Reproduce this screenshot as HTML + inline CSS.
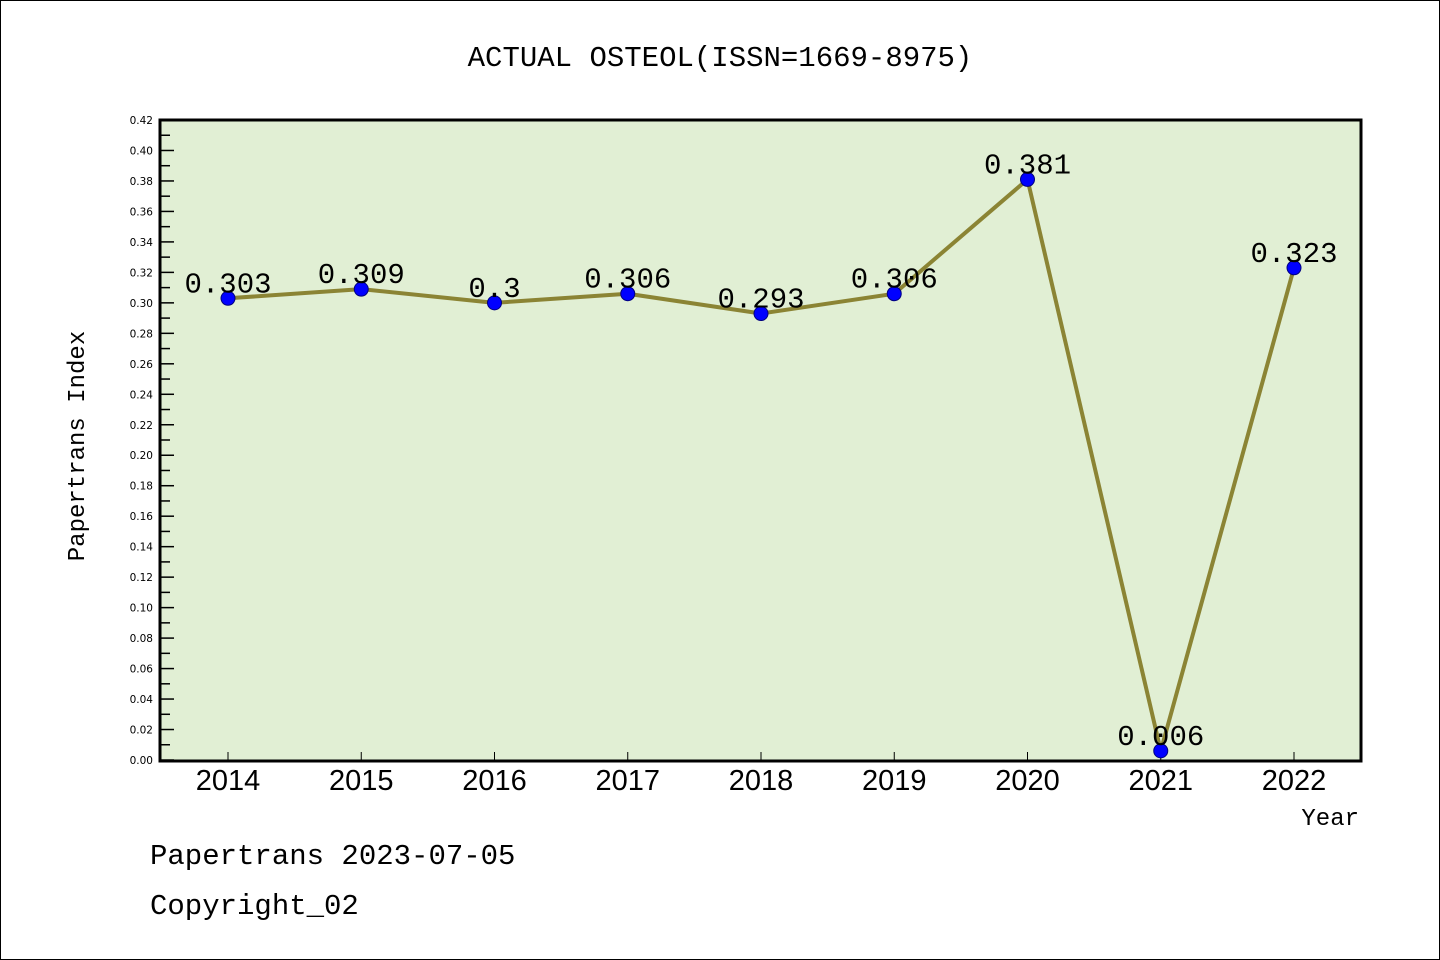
<!DOCTYPE html>
<html><head><meta charset="utf-8"><style>
html,body{margin:0;padding:0;background:#fff}
svg{display:block}
</style></head><body>
<svg id="chart" width="1440" height="960" xmlns="http://www.w3.org/2000/svg">
<rect x="0.5" y="0.5" width="1439" height="959" fill="#fff" stroke="#000"/>
<text x="720" y="66" text-anchor="middle" font-family="'WenQuanYi Zen Hei','Liberation Mono',monospace" font-size="29">ACTUAL OSTEOL(ISSN=1669-8975)</text>
<rect x="160" y="120" width="1201" height="641" fill="#e1efd4"/>
<g id="axes"></g>
<g id="series"></g>
<rect x="160" y="120" width="1201" height="641" fill="none" stroke="#000" stroke-width="3"/>
<text transform="translate(84,446) rotate(-90)" text-anchor="middle" font-family="'WenQuanYi Zen Hei','Liberation Mono',monospace" font-size="24">Papertrans Index</text>
<text x="1359" y="825" text-anchor="end" font-family="'WenQuanYi Zen Hei','Liberation Mono',monospace" font-size="24">Year</text>
<text x="150" y="864" font-family="'WenQuanYi Zen Hei','Liberation Mono',monospace" font-size="29">Papertrans 2023-07-05</text>
<text x="150" y="914" font-family="'WenQuanYi Zen Hei','Liberation Mono',monospace" font-size="29">Copyright_02</text>
</svg>
<script>
const categories = ["2014","2015","2016","2017","2018","2019","2020","2021","2022"];
const values = [0.303,0.309,0.3,0.306,0.293,0.306,0.381,0.006,0.323];
const valueLabels = ["0.303","0.309","0.3","0.306","0.293","0.306","0.381","0.006","0.323"];
const yMax = 0.42;
const NS = "http://www.w3.org/2000/svg";
const x0 = 228, x1 = 1294, yTop = 120, yBot = 760;
function xPos(i){ return x0 + (x1 - x0) * i / (categories.length - 1); }
function yPos(v){ return yBot - (v / yMax) * (yBot - yTop); }
function mk(tag, attrs, parent){ const e = document.createElementNS(NS, tag); for (const k in attrs) e.setAttribute(k, attrs[k]); parent.appendChild(e); return e; }
const axes = document.getElementById('axes');
const series = document.getElementById('series');
for (let k = 0; k <= 42; k++) {
  const v = k / 100, y = yPos(v), major = k % 2 === 0;
  const t = mk('line', {x1:160, x2:160 + (major ? 14 : 10), y1:y, y2:y, stroke:'#000', 'stroke-width':1.5}, axes);
  
  
  if (major) {
    const l = mk('text', {x:153, y:y + 4, 'text-anchor':'end', 'font-family':'DejaVu Sans, sans-serif', 'font-size':10.5}, axes);
    l.textContent = v.toFixed(2);
    
    
  }
}
categories.forEach((c, i) => {
  const x = xPos(i);
  const t = mk('line', {x1:x, x2:x, y1:760, y2:752, stroke:'#000', 'stroke-width':1}, axes);
  
  
  const l = mk('text', {x:x, y:790, 'text-anchor':'middle', 'font-family':'Liberation Sans, sans-serif', 'font-size':29}, axes);
  l.textContent = c;
  
  
});
const pts = values.map((v, i) => xPos(i) + ',' + yPos(v)).join(' ');
const line = mk('polyline', {points:pts, fill:'none', stroke:'#8b8434', 'stroke-width':4, 'stroke-linejoin':'round'}, series);


values.forEach((v, i) => {
  const p = mk('circle', {cx:xPos(i), cy:yPos(v), r:7, fill:'#0000ff', stroke:'#000080', 'stroke-width':1}, series);
  
  
  const l = mk('text', {x:xPos(i), y:yPos(v) - 6, 'text-anchor':'middle', 'font-family':"'WenQuanYi Zen Hei','Liberation Mono',monospace", 'font-size':29}, series);
  l.textContent = valueLabels[i];
  
  
});
</script>
</body></html>
